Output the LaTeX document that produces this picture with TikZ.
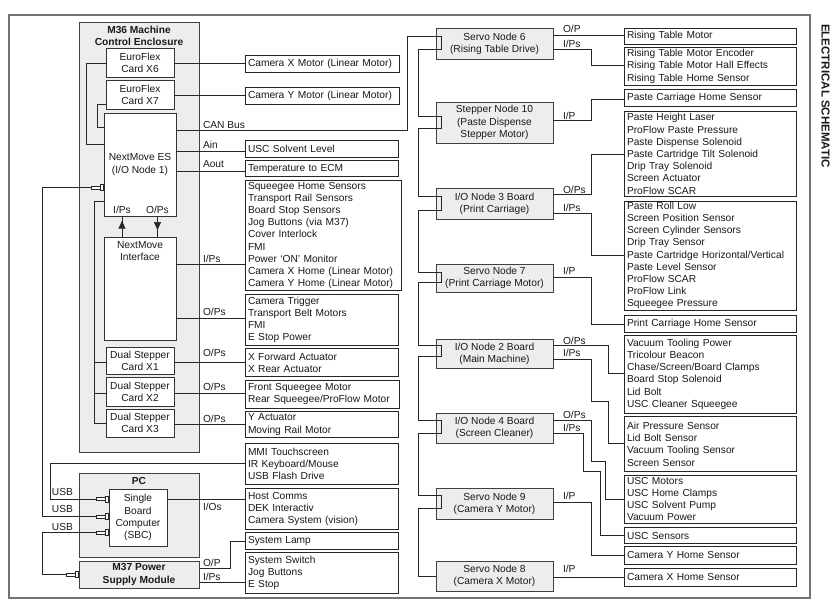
\documentclass[tikz,border=0pt]{standalone}
\usepackage{fontspec}
\setmainfont{Liberation Sans}
\usetikzlibrary{arrows.meta,decorations.markings}
\newcommand\ListBox[6]{\pgfmathsetlengthmacro\lbtw{(#4-#2-6)*1pt}\pgfmathsetlengthmacro\lbh{(#5-#3)*1pt}\node[lbox, minimum height=\lbh, text width=\lbtw] (#1) at (#2,#3) {#6};}
\newcommand\GrayBox[6]{\pgfmathsetlengthmacro\lbw{(#4-#2)*1pt}\pgfmathsetlengthmacro\lbh{(#5-#3)*1pt}\node[gbox, minimum width=\lbw, minimum height=\lbh] (#1) at (#2,#3) {#6};}
\newcommand\WhiteBox[6]{\pgfmathsetlengthmacro\lbw{(#4-#2)*1pt}\pgfmathsetlengthmacro\lbh{(#5-#3)*1pt}\node[wbox, minimum width=\lbw, minimum height=\lbh] (#1) at (#2,#3) {#6};}
\begin{document}
\begin{tikzpicture}[x=1pt,y=-1pt,
  fnt/.style={font=\fontsize{10.2}{12.2}\selectfont, text=black!90, inner sep=0pt, outer sep=0pt},
  lbox/.style={fnt, draw=black!85, fill=white, line width=0.8pt, align=left, anchor=north west, inner xsep=3pt, inner ysep=0pt},
  gbox/.style={fnt, draw=black!75, fill=black!7, line width=0.8pt, align=center, anchor=north west},
  wbox/.style={fnt, draw=black!80, fill=white, line width=0.8pt, align=center, anchor=north west},
  plab/.style={fnt, anchor=base west},
  bld/.style={font=\bfseries\fontsize{10.2}{12.2}\selectfont},
  wire/.style={draw=black!85, line width=0.7pt},
  usbplug/.pic={\draw[black!85, line width=0.6pt, fill=white] (-12.5,-1.7) rectangle (-4,1.7);
                \draw[black!85, line width=0.6pt, fill=white] (-4,-3) rectangle (-1,3);},
  arrmark/.style={postaction={decorate}, decoration={markings, mark=at position #1 with {\arrow{Triangle[width=7pt,length=8pt]}}}}
]
\useasboundingbox (0,0) rectangle (831,608);
% frame and title
\draw[draw=black!55, line width=1.2pt] (9,15) rectangle (810,598);
\node[fnt, font=\bfseries\fontsize{11.5}{12}\selectfont, rotate=-90] (title) at (825.5,96) {ELECTRICAL SCHEMATIC};

% M36 enclosure
\GrayBox{m36}{79}{22}{199}{452}{}
\node[fnt, bld, align=center, anchor=north] (m36t) at (139,26) {M36 Machine\\Control Enclosure};
\WhiteBox{x6}{106}{48}{174}{77}{EuroFlex\\Card X6}
\WhiteBox{x7}{106}{80}{174}{109}{EuroFlex\\Card X7}
\WhiteBox{es}{104}{113}{176}{216}{NextMove ES\\(I/O Node 1)}
\node[fnt, anchor=base] (esi) at (122,213.5) {I/Ps};
\node[fnt, anchor=base] (eso) at (157.5,213.5) {O/Ps};
\WhiteBox{iface}{104}{237}{176}{340}{}
\node[fnt, align=center, anchor=north] (ifacet) at (140,241.5) {NextMove\\Interface};
\WhiteBox{x1}{106}{347}{174}{374}{Dual Stepper\\Card X1}
\WhiteBox{x2}{106}{377}{174}{406}{Dual Stepper\\Card X2}
\WhiteBox{x3}{106}{409}{174}{437}{Dual Stepper\\Card X3}

% PC
\GrayBox{pc}{79}{473}{199}{557}{}
\node[fnt, bld, anchor=north] (pct) at (139,477) {PC};
\WhiteBox{sbc}{109}{489}{167}{546}{Single\\Board\\Computer\\(SBC)}
\node[gbox, bld, minimum width=120pt, minimum height=27pt] (psu) at (79,561) {M37 Power\\Supply Module};

% middle list boxes
\ListBox{camx}{245}{55}{399}{72}{Camera X Motor (Linear Motor)}
\ListBox{camy}{245}{87.3}{399}{104.3}{Camera Y Motor (Linear Motor)}
\ListBox{uscl}{245}{140.7}{398.3}{157}{USC Solvent Level}
\ListBox{temp}{245}{160.7}{398.3}{176.7}{Temperature to ECM}
\ListBox{sq}{245}{180}{401}{290.7}{Squeegee Home Sensors\\Transport Rail Sensors\\Board Stop Sensors\\Jog Buttons (via M37)\\Cover Interlock\\FMI\\Power ‘ON’ Monitor\\Camera X Home (Linear Motor)\\Camera Y Home (Linear Motor)}
\ListBox{ct}{245}{294}{398.3}{345.7}{Camera Trigger\\Transport Belt Motors\\FMI\\E Stop Power}
\ListBox{xf}{245}{348.3}{398.3}{376.7}{X Forward Actuator\\X Rear Actuator}
\ListBox{fs}{245}{380}{399}{408.3}{Front Squeegee Motor\\Rear Squeegee/ProFlow Motor}
\ListBox{ya}{245}{411.7}{398.3}{437.3}{Y Actuator\\Moving Rail Motor}
\ListBox{mmi}{245}{443.3}{398.3}{484}{MMI Touchscreen\\IR Keyboard/Mouse\\USB Flash Drive}
\ListBox{host}{245}{488.3}{398.3}{529.3}{Host Comms\\DEK Interactiv\\Camera System (vision)}
\ListBox{lamp}{245}{532.7}{398.3}{549.3}{System Lamp}
\ListBox{sw}{245}{552.7}{398.3}{593.3}{System Switch\\Jog Buttons\\E Stop}

% CAN nodes
\GrayBox{n6}{436}{28}{553}{59}{Servo Node 6\\(Rising Table Drive)}
\GrayBox{n10}{436}{102}{553}{143}{Stepper Node 10\\(Paste Dispense\\Stepper Motor)}
\GrayBox{n3}{436}{188}{553}{219}{I/O Node 3 Board\\(Print Carriage)}
\GrayBox{n7}{436}{264}{553}{292}{Servo Node 7\\(Print Carriage Motor)}
\GrayBox{n2}{436}{339}{553}{368}{I/O Node 2 Board\\(Main Machine)}
\GrayBox{n4}{436}{413}{553}{443}{I/O Node 4 Board\\(Screen Cleaner)}
\GrayBox{n9}{436}{488}{553}{519}{Servo Node 9\\(Camera Y Motor)}
\GrayBox{n8}{436}{561}{553}{591}{Servo Node 8\\(Camera X Motor)}

% right list boxes
\ListBox{rtm}{624}{28.3}{796}{44.3}{Rising Table Motor}
\ListBox{rte}{624}{47.7}{796}{85}{Rising Table Motor Encoder\\Rising Table Motor Hall Effects\\Rising Table Home Sensor}
\ListBox{pch}{624}{89.3}{796}{106}{Paste Carriage Home Sensor}
\ListBox{phl}{624}{111}{796}{196.7}{Paste Height Laser\\ProFlow Paste Pressure\\Paste Dispense Solenoid\\Paste Cartridge Tilt Solenoid\\Drip Tray Solenoid\\Screen Actuator\\ProFlow SCAR}
\ListBox{prl}{624}{201}{796}{310}{Paste Roll Low\\Screen Position Sensor\\Screen Cylinder Sensors\\Drip Tray Sensor\\Paste Cartridge Horizontal/Vertical\\Paste Level Sensor\\ProFlow SCAR\\ProFlow Link\\Squeegee Pressure}
\ListBox{pchs}{624}{315}{796}{332.3}{Print Carriage Home Sensor}
\ListBox{vtp}{624}{335}{796}{413.3}{Vacuum Tooling Power\\Tricolour Beacon\\Chase/Screen/Board Clamps\\Board Stop Solenoid\\Lid Bolt\\USC Cleaner Squeegee}
\ListBox{aps}{624}{416.7}{796}{471.7}{Air Pressure Sensor\\Lid Bolt Sensor\\Vacuum Tooling Sensor\\Screen Sensor}
\ListBox{uscm}{624}{475}{796}{523.3}{USC Motors\\USC Home Clamps\\USC Solvent Pump\\Vacuum Power}
\ListBox{uscs}{624}{527.7}{796}{543.3}{USC Sensors}
\ListBox{cyh}{624}{546.7}{796}{564}{Camera Y Home Sensor}
\ListBox{cxh}{624}{568.3}{796}{586}{Camera X Home Sensor}

% ---- wires inside M36 / left side
\draw[wire] (x6.west |- 0,63) -- (86,63) |- (es.west |- 0,144);
\draw[wire] (x7.west |- 0,104) -- (97,104) |- (es.west |- 0,127);
\draw[wire] (es.west |- 0,201) -- (94,201) |- (x3.west |- 0,423);
\draw[wire] (94,362.5) -- (x1.west |- 0,362.5);
\draw[wire] (94,393) -- (x2.west |- 0,393);
\draw[wire, arrmark=0.776] (iface.north -| 122,0) -- (es.south -| 122,0);
\draw[wire, arrmark=0.667] (es.south -| 157.5,0) -- (iface.north -| 157.5,0);
% USB
\draw[wire] (es.west |- 0,187.5) -- (42,187.5) |- (sbc.west |- 0,516.7);
\draw[wire] (mmi.west |- 0,463.5) -- (50,463.5) |- (sbc.west |- 0,499);
\draw[wire] (sbc.west |- 0,532.7) -- (42,532.7) |- (psu.west |- 0,574.5);
\pic at (es.west |- 0,187.5) {usbplug};
\pic at (sbc.west |- 0,499) {usbplug};
\pic at (sbc.west |- 0,516.7) {usbplug};
\pic at (sbc.west |- 0,532.7) {usbplug};
\pic at (psu.west |- 0,574.5) {usbplug};
\node[plab] (usb1) at (52,495) {USB};
\node[plab] (usb2) at (52,512.7) {USB};
\node[plab] (usb3) at (52,530.5) {USB};

% ---- middle wires
\draw[wire] (x6.east |- 0,63) -- (camx.west |- 0,63);
\draw[wire] (x7.east |- 0,95.7) -- (camy.west |- 0,95.7);
\draw[wire] (es.east |- 0,151) -- (uscl.west |- 0,151);
\draw[wire] (es.east |- 0,171) -- (temp.west |- 0,171);
\draw[wire] (iface.east |- 0,264.3) -- (sq.west |- 0,264.3);
\draw[wire] (iface.east |- 0,318) -- (ct.west |- 0,318);
\draw[wire] (x1.east |- 0,362.3) -- (xf.west |- 0,362.3);
\draw[wire] (x2.east |- 0,393.3) -- (fs.west |- 0,393.3);
\draw[wire] (x3.east |- 0,424) -- (ya.west |- 0,424);
\draw[wire] (sbc.east |- 0,499.3) -- (host.west |- 0,499.3);
\draw[wire] (psu.east |- 0,568.3) -- (230,568.3) |- (lamp.west |- 0,541);
\draw[wire] (psu.east |- 0,582.7) -- (sw.west |- 0,582.7);
\node[plab] (lcan) at (203,128.3) {CAN Bus};
\node[plab] (lain) at (203,148.3) {Ain};
\node[plab] (laout) at (203,167.7) {Aout};
\node[plab] (lii) at (203,262.5) {I/Ps};
\node[plab] (lio) at (203,315) {O/Ps};
\node[plab] (lx1) at (203,356) {O/Ps};
\node[plab] (lx2) at (203,390) {O/Ps};
\node[plab] (lx3) at (203,422.5) {O/Ps};
\node[plab] (lios) at (203,510) {I/Os};
\node[plab] (lpo) at (203,566) {O/P};
\node[plab] (lpi) at (203,580) {I/Ps};

% ---- CAN bus
\draw[wire] (es.east |- 0,130) -- (407,130) -- (407,36) -- (441.7,36) -- (441.7,49.3) -- (418.3,49.3)
  -- (418.3,116) -- (441.7,116) -- (441.7,128.3) -- (418.3,128.3)
  -- (418.3,196.7) -- (441.7,196.7) -- (441.7,210) -- (418.3,210)
  -- (418.3,272.7) -- (441.7,272.7) -- (441.7,282.7) -- (418.3,282.7)
  -- (418.3,345.7) -- (441.7,345.7) -- (441.7,356.7) -- (418.3,356.7)
  -- (418.3,420.7) -- (441.7,420.7) -- (441.7,433.3) -- (418.3,433.3)
  -- (418.3,495.7) -- (441.7,495.7) -- (441.7,508.3) -- (418.3,508.3)
  -- (418.3,576.7) -- (n8.west |- 0,576.7);

% ---- right wires
\draw[wire] (n6.east |- 0,35) -- (rtm.west |- 0,35);
\draw[wire] (n6.east |- 0,49.3) -- (591.7,49.3) |- (rte.west |- 0,65.7);
\draw[wire] (n10.east |- 0,120.7) -- (591.7,120.7) |- (pch.west |- 0,99);
\draw[wire] (n3.east |- 0,194) -- (591.7,194) |- (phl.west |- 0,154);
\draw[wire] (n3.east |- 0,213.3) -- (591.7,213.3) |- (prl.west |- 0,255);
\draw[wire] (n7.east |- 0,277.3) -- (591.7,277.3) |- (pchs.west |- 0,324);
\draw[wire] (n2.east |- 0,345.7) -- (608.3,345.7) |- (vtp.west |- 0,373.3);
\draw[wire] (n2.east |- 0,359.3) -- (591.7,359.3) |- (608.3,401.7) |- (aps.west |- 0,443.3);
\draw[wire] (n4.east |- 0,420.7) -- (591.7,420.7) |- (605,461.7) |- (uscm.west |- 0,499);
\draw[wire] (n4.east |- 0,433.3) -- (583.3,433.3) |- (600,471.7) |- (uscs.west |- 0,535.5);
\draw[wire] (n9.east |- 0,502.7) -- (591.7,502.7) |- (cyh.west |- 0,555.3);
\draw[wire] (n8.east |- 0,577) -- (cxh.west |- 0,577);
\node[plab] (r6o) at (563,32.7) {O/P};
\node[plab] (r6i) at (563,47.3) {I/Ps};
\node[plab] (r10) at (563,119) {I/P};
\node[plab] (r3o) at (563,193) {O/Ps};
\node[plab] (r3i) at (563,211.7) {I/Ps};
\node[plab] (r7) at (563,274) {I/P};
\node[plab] (r2o) at (563,344.3) {O/Ps};
\node[plab] (r2i) at (563,356.7) {I/Ps};
\node[plab] (r4o) at (563,418.3) {O/Ps};
\node[plab] (r4i) at (563,431) {I/Ps};
\node[plab] (r9) at (563,499.3) {I/P};
\node[plab] (r8) at (563,572.7) {I/P};
\end{tikzpicture}
\end{document}
